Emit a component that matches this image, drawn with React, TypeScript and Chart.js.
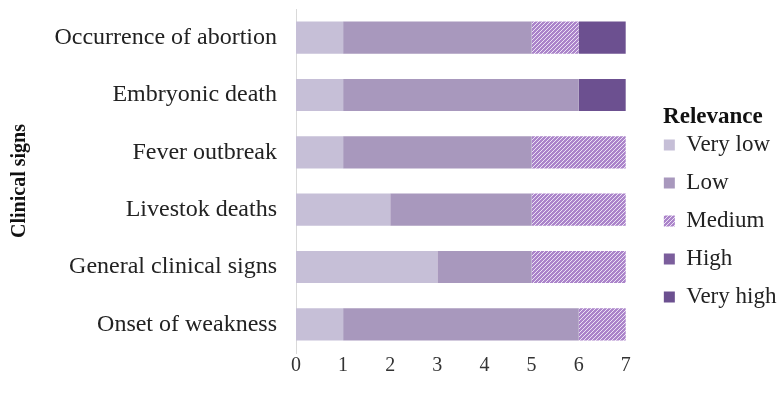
import React, { useEffect, useRef } from "react";
import { Chart, registerables } from "chart.js";
Chart.register(...registerables);

const categories = [
  "Occurrence of abortion",
  "Embryonic death",
  "Fever outbreak",
  "Livestok deaths",
  "General clinical signs",
  "Onset of weakness",
];
const seriesNames = ["Very low", "Low", "Medium", "High", "Very high"];
const veryLow = [1, 1, 1, 2, 3, 1];
const low = [4, 5, 4, 3, 2, 5];
const medium = [1, 0, 2, 2, 2, 1];
const high = [0, 0, 0, 0, 0, 0];
const veryHigh = [1, 1, 0, 0, 0, 0];
const xTicks = [0, 1, 2, 3, 4, 5, 6, 7];

function makePattern(): CanvasPattern | string {
  const c = document.createElement("canvas");
  c.width = 4;
  c.height = 4;
  const ctx = c.getContext("2d");
  if (!ctx) return "#a985c6";
  ctx.fillStyle = "#ab84ca";
  ctx.fillRect(0, 0, 4, 4);
  ctx.strokeStyle = "rgba(242,236,248,0.9)";
  ctx.lineWidth = 1;
  ctx.beginPath();
  ctx.moveTo(0, 4);
  ctx.lineTo(4, 0);
  ctx.moveTo(-1, 1);
  ctx.lineTo(1, -1);
  ctx.moveTo(3, 5);
  ctx.lineTo(5, 3);
  ctx.stroke();
  const p = ctx.createPattern(c, "repeat");
  return p || "#a985c6";
}

export default function App() {
  const ref = useRef<HTMLCanvasElement>(null);
  useEffect(() => {
    document.body.style.margin = "0";
    const canvas = ref.current;
    if (!canvas) return;
    const pattern = makePattern();
    const colors: any[] = ["#c6bfd7", "#a898bd", pattern, "#7b5e9c", "#6c5090"];
    const values = [veryLow, low, medium, high, veryHigh];
    const font = "'Liberation Serif', 'Times New Roman', serif";
    const chart = new Chart(canvas, {
      type: "bar",
      data: {
        labels: categories,
        datasets: seriesNames.map((name, i) => ({
          label: name,
          data: values[i],
          backgroundColor: colors[i],
          borderWidth: 0,
          barPercentage: 0.56,
          categoryPercentage: 1,
        })),
      },
      options: {
        indexAxis: "y",
        animation: false,
        responsive: false,
        maintainAspectRatio: false,
        layout: { padding: { top: 9, right: 3, bottom: 0, left: 8 } },
        scales: {
          x: {
            stacked: true,
            min: 0,
            max: 7,
            afterBuildTicks: (axis: any) => {
              axis.ticks = xTicks.map((v) => ({ value: v }));
            },
            afterFit: (axis: any) => {
              axis.height = 43;
              axis.paddingLeft = 0;
              axis.paddingRight = 0;
            },
            grid: { display: false, drawTicks: false },
            border: { display: false },
            ticks: { color: "#333", font: { family: font, size: 20 }, padding: 1 },
          },
          y: {
            stacked: true,
            afterFit: (axis: any) => {
              axis.width = 288;
              axis.paddingTop = 0;
              axis.paddingBottom = 0;
            },
            grid: { display: false, drawTicks: false },
            border: { display: true, color: "#d9d9d9", width: 1 },
            ticks: { color: "#222", font: { family: font, size: 24 }, padding: 19 },
            title: {
              display: true,
              text: "Clinical signs",
              color: "#111",
              font: { family: font, size: 20, weight: "bold", lineHeight: 1.2 },
              padding: { top: 0, bottom: 0 },
            },
          },
          gap: {
            type: "category",
            position: "right",
            axis: "y",
            display: true,
            afterFit: (axis: any) => {
              axis.width = 23;
              axis.paddingTop = 0;
              axis.paddingBottom = 0;
            },
            grid: { display: false, drawTicks: false },
            border: { display: false },
            ticks: { display: false },
          },
        } as any,
        plugins: {
          legend: {
            position: "right",
            align: "center",
            title: {
              display: true,
              text: "Relevance",
              color: "#111",
              font: { family: font, size: 23, weight: "bold", lineHeight: 0.543 },
              padding: { top: 24.5, bottom: 0 },
            },
            labels: {
              color: "#222",
              font: { family: font, size: 23 },
              boxWidth: 11,
              boxHeight: 11,
              padding: 15,
            },
          },
          tooltip: { enabled: false },
        },
      },
    });
    return () => chart.destroy();
  }, []);
  return <canvas ref={ref} width={780} height={396} style={{ display: "block" }} />;
}
